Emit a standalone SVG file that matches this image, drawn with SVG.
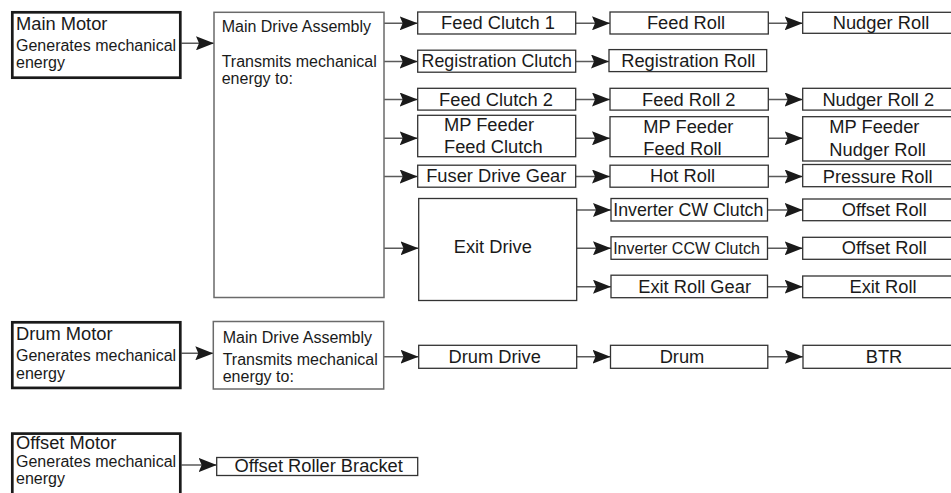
<svg xmlns="http://www.w3.org/2000/svg" width="951" height="493" viewBox="0 0 951 493">
<style>
text{font-family:"Liberation Sans",Arial,Helvetica,sans-serif;fill:#1a1a1a}
.t18{font-size:18.3px}
.t16{font-size:16px}
.m{text-anchor:middle}
.box{fill:#fff;stroke:#333;stroke-width:1.3}
.motor{fill:#fff;stroke:#1a1a1a;stroke-width:2.7}
.asm{fill:#fff;stroke:#6a6a6a;stroke-width:1.5}
.c{stroke:#5a5a5a;stroke-width:1.5;fill:none;marker-end:url(#ah)}
</style>
<defs>
<marker id="ah" markerUnits="userSpaceOnUse" markerWidth="18" markerHeight="14" refX="18" refY="7" orient="auto">
<path d="M0,0 L18,7 L0,14 L3,7 Z" fill="#1a1a1a"/>
</marker>
</defs>
<rect width="951" height="493" fill="#fff"/>

<g id="connectors">
<line class="c" x1="181.5" y1="43.3" x2="214" y2="43.3"/>
<line class="c" x1="384" y1="23.3" x2="417.7" y2="23.3"/>
<line class="c" x1="384" y1="61.5" x2="417.7" y2="61.5"/>
<line class="c" x1="384" y1="99.5" x2="417.7" y2="99.5"/>
<line class="c" x1="384" y1="138.3" x2="417.7" y2="138.3"/>
<line class="c" x1="384" y1="176.5" x2="417.7" y2="176.5"/>
<line class="c" x1="384" y1="248.3" x2="418.5" y2="248.3"/>
<line class="c" x1="575.7" y1="23.3" x2="610" y2="23.3"/>
<line class="c" x1="575.7" y1="61.5" x2="609" y2="61.5"/>
<line class="c" x1="575.7" y1="99.5" x2="610" y2="99.5"/>
<line class="c" x1="575.7" y1="138.3" x2="610" y2="138.3"/>
<line class="c" x1="575.7" y1="176.5" x2="610" y2="176.5"/>
<line class="c" x1="576.5" y1="210" x2="611" y2="210"/>
<line class="c" x1="576.5" y1="248.3" x2="611" y2="248.3"/>
<line class="c" x1="576.5" y1="286.7" x2="611" y2="286.7"/>
<line class="c" x1="768.3" y1="23.3" x2="802.7" y2="23.3"/>
<line class="c" x1="768.3" y1="99.5" x2="802.7" y2="99.5"/>
<line class="c" x1="768.3" y1="138.3" x2="802.7" y2="138.3"/>
<line class="c" x1="768.3" y1="176.5" x2="802.7" y2="176.5"/>
<line class="c" x1="767.5" y1="210" x2="802.7" y2="210"/>
<line class="c" x1="767.5" y1="248.3" x2="802.7" y2="248.3"/>
<line class="c" x1="767.5" y1="286.7" x2="802.7" y2="286.7"/>
<line class="c" x1="181.5" y1="353.3" x2="213.3" y2="353.3"/>
<line class="c" x1="383.7" y1="356.7" x2="418.5" y2="356.7"/>
<line class="c" x1="576.5" y1="356.7" x2="610.5" y2="356.7"/>
<line class="c" x1="767.8" y1="356.7" x2="803" y2="356.7"/>
<line class="c" x1="181.5" y1="465" x2="216.7" y2="465"/>
</g>

<g id="main-motor">
<rect class="motor" x="12.3" y="12.3" width="168" height="65.4"/>
<text class="t18" x="16" y="30">Main Motor</text>
<text class="t16" x="16" y="51">Generates mechanical</text>
<text class="t16" x="16" y="68.3">energy</text>
</g>
<g id="main-drive-assembly">
<rect class="asm" x="214" y="12.3" width="170" height="285.2"/>
<text class="t16" x="221.7" y="32.3">Main Drive Assembly</text>
<text class="t16" x="221.7" y="66.7">Transmits mechanical</text>
<text class="t16" x="221.7" y="84.3">energy to:</text>
</g>

<g id="feed-clutch-1"><rect class="box" x="417.7" y="12" width="158" height="22"/><text class="t18 m" x="498" y="29.3">Feed Clutch 1</text></g>
<g id="registration-clutch"><rect class="box" x="417.7" y="50.2" width="158" height="22"/><text class="m" style="font-size:17.8px" x="496.7" y="67">Registration Clutch</text></g>
<g id="feed-clutch-2"><rect class="box" x="417.7" y="88.3" width="158" height="21.8"/><text class="t18 m" x="496" y="106">Feed Clutch 2</text></g>
<g id="mp-feeder-feed-clutch"><rect class="box" x="417.7" y="115.3" width="158" height="41.4"/><text class="t18" x="444" y="130.5">MP Feeder</text><text class="t18" x="444" y="152.7">Feed Clutch</text></g>
<g id="fuser-drive-gear"><rect class="box" x="417.7" y="165.2" width="158" height="22"/><text class="t18 m" x="496.3" y="182">Fuser Drive Gear</text></g>
<g id="exit-drive"><rect class="box" x="418.7" y="198.5" width="158" height="102"/><text class="t18 m" x="492.8" y="253.3">Exit Drive</text></g>

<g id="feed-roll"><rect class="box" x="610" y="12" width="158.3" height="22"/><text class="t18 m" x="686" y="29.3">Feed Roll</text></g>
<g id="registration-roll"><rect class="box" x="609" y="49.6" width="157.7" height="22"/><text class="t18 m" x="688.3" y="67">Registration Roll</text></g>
<g id="feed-roll-2"><rect class="box" x="610" y="88.3" width="158.3" height="21.8"/><text class="t18 m" x="688.8" y="106">Feed Roll 2</text></g>
<g id="mp-feeder-feed-roll"><rect class="box" x="610" y="116.7" width="158.3" height="40"/><text class="t18" x="643.3" y="132.7">MP Feeder</text><text class="t18" x="643.3" y="155">Feed Roll</text></g>
<g id="hot-roll"><rect class="box" x="610" y="165.2" width="158.3" height="22"/><text class="t18 m" x="682.5" y="182">Hot Roll</text></g>
<g id="inverter-cw-clutch"><rect class="box" x="611" y="198.5" width="156.5" height="22.5"/><text class="m" style="font-size:17.8px" x="688.3" y="216">Inverter CW Clutch</text></g>
<g id="inverter-ccw-clutch"><rect class="box" x="611" y="236.8" width="156.5" height="22.5"/><text class="t16 m" x="686.5" y="254">Inverter CCW Clutch</text></g>
<g id="exit-roll-gear"><rect class="box" x="611" y="275.2" width="156.5" height="22.5"/><text class="t18 m" x="694.6" y="292.7">Exit Roll Gear</text></g>

<g id="nudger-roll"><rect class="box" x="802.7" y="12.3" width="160" height="21"/><text class="t18 m" x="881" y="29.3">Nudger Roll</text></g>
<g id="nudger-roll-2"><rect class="box" x="802.7" y="88.3" width="160" height="21.8"/><text class="t18 m" x="878.3" y="106">Nudger Roll 2</text></g>
<g id="mp-feeder-nudger-roll"><rect class="box" x="802.7" y="116.7" width="160" height="44.3"/><text class="t18" x="829.3" y="133.3">MP Feeder</text><text class="t18" x="829.3" y="156">Nudger Roll</text></g>
<g id="pressure-roll"><rect class="box" x="802.7" y="164.5" width="160" height="22.2"/><text class="t18 m" x="877.7" y="182.7">Pressure Roll</text></g>
<g id="offset-roll-1"><rect class="box" x="802.7" y="199" width="160" height="21.7"/><text class="t18 m" x="884.2" y="216">Offset Roll</text></g>
<g id="offset-roll-2"><rect class="box" x="802.7" y="237.3" width="160" height="22"/><text class="t18 m" x="884.2" y="254.3">Offset Roll</text></g>
<g id="exit-roll"><rect class="box" x="802.7" y="276" width="160" height="21.7"/><text class="t18 m" x="883" y="292.7">Exit Roll</text></g>

<g id="drum-motor">
<rect class="motor" x="12.3" y="322.3" width="168" height="65.6"/>
<text class="t18" x="16" y="339.7">Drum Motor</text>
<text class="t16" x="16" y="360.5">Generates mechanical</text>
<text class="t16" x="16" y="378.5">energy</text>
</g>
<g id="main-drive-assembly-2">
<rect class="asm" x="213.3" y="321.5" width="170.4" height="67.5"/>
<text class="t16" x="222.7" y="342.7">Main Drive Assembly</text>
<text class="t16" x="222.7" y="364.5">Transmits mechanical</text>
<text class="t16" x="222.7" y="382">energy to:</text>
</g>
<g id="drum-drive"><rect class="box" x="418.7" y="345.3" width="158" height="23"/><text class="t18 m" x="494.7" y="362.5">Drum Drive</text></g>
<g id="drum"><rect class="box" x="610.5" y="345.3" width="157.3" height="23"/><text class="t18 m" x="682" y="362.5">Drum</text></g>
<g id="btr"><rect class="box" x="803" y="345.3" width="160" height="23"/><text class="t18 m" x="884" y="362.5">BTR</text></g>

<g id="offset-motor">
<rect class="motor" x="12.3" y="433.6" width="168" height="70"/>
<text class="t18" x="16" y="448.5">Offset Motor</text>
<text class="t16" x="16" y="467">Generates mechanical</text>
<text class="t16" x="16" y="484">energy</text>
</g>
<g id="offset-roller-bracket"><rect class="box" x="216.7" y="457.5" width="201" height="18"/><text class="t18 m" x="318.7" y="472">Offset Roller Bracket</text></g>
</svg>
